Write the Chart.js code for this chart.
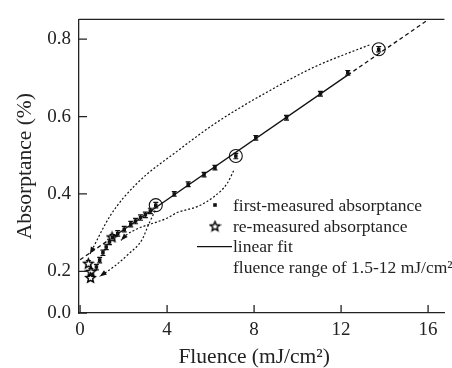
<!DOCTYPE html>
<html>
<head>
<meta charset="utf-8">
<script src="https://cdn.jsdelivr.net/npm/chart.js@4.4.1/dist/chart.umd.min.js"></script>
<style>
  html, body { margin:0; padding:0; background:#fff; }
</style>
</head>
<body>
<canvas id="c" width="452" height="368"></canvas>
<script>
// ---------------- DATA ----------------
// first-measured absorptance (fluence in mJ/cm2, absorptance in %)
const firstX   = [0.53, 0.75, 0.90, 1.05, 1.20, 1.35, 1.50, 1.73, 2.03, 2.33, 2.55, 2.78, 3.00, 3.23, 3.48,
                  4.33, 4.97, 5.70, 6.20, 7.16, 8.08, 9.49, 11.05, 12.31, 13.73];
const firstY   = [0.192, 0.211, 0.229, 0.248, 0.263, 0.276, 0.288, 0.298, 0.309, 0.322, 0.330, 0.339, 0.346, 0.356, 0.371,
                  0.400, 0.425, 0.450, 0.468, 0.498, 0.545, 0.597, 0.659, 0.713, 0.774];
const firstErr = [0.007, 0.007, 0.007, 0.007, 0.007, 0.007, 0.007, 0.007, 0.007, 0.007, 0.007, 0.007, 0.007, 0.007, 0.007,
                  0.006, 0.006, 0.006, 0.006, 0.007, 0.006, 0.006, 0.006, 0.006, 0.007];
const circled  = [14, 19, 24];   // indices of circled first-measured points

// re-measured absorptance
const reX   = [0.38, 0.50, 0.48, 1.47];
const reY   = [0.221, 0.200, 0.184, 0.289];
const reErr = [0.007, 0.007, 0.007, 0.006];

// linear fit (solid inside 1.5-12, dashed outside)
const fitX = [0.0, 1.5, 12.3, 16.0];
const fitY = [0.230, 0.288, 0.707, 0.850];

// dotted arrows from circled points to the re-measured points
const bigX   = [13.30, 10.81, 8.56, 6.31, 4.50, 2.61, 1.40, 0.45];
const bigY   = [0.785, 0.729, 0.662, 0.586, 0.512, 0.427, 0.345, 0.245];
const midX   = [7.06, 6.76, 6.16, 5.41, 4.43, 4.05, 2.10, 1.88];
const midY   = [0.460, 0.427, 0.393, 0.368, 0.351, 0.339, 0.293, 0.280];
const smallX = [3.45, 3.15, 2.84, 2.25, 1.58, 0.90];
const smallY = [0.357, 0.321, 0.281, 0.246, 0.213, 0.187];

// axes
const xTicks = [0, 4, 8, 12, 16];
const yTicks = [0.0924, 0.2, 0.4, 0.6, 0.8];
const yTickLabels = ['0.0', '0.2', '0.4', '0.6', '0.8'];

const legendLabels = ['first-measured absorptance', 're-measured absorptance', 'linear fit',
                      'fluence range of 1.5-12 mJ/cm\u00B2'];

// ---------------- HELPERS ----------------
const FONT = '"Liberation Serif", "Times New Roman", serif';
const INK = '#111';

function pts(xs, ys){
    return xs.map((v, i) => ({x: v, y: ys[i]}));
}

function makeStar(r){
    const c = document.createElement('canvas');
    const s = Math.ceil(r * 2 + 3);
    c.width = s; c.height = s;
    const g = c.getContext('2d');
    g.translate(s / 2, s / 2 + 0.6);
    g.beginPath();
    for (let i = 0; i < 10; i++){
        const rr = i % 2 ? r * 0.45 : r;
        const a = -Math.PI / 2 + i * Math.PI / 5;
        g.lineTo(rr * Math.cos(a), rr * Math.sin(a));
    }
    g.closePath();
    g.fillStyle = '#fff'; g.fill();
    g.lineWidth = 1.4; g.strokeStyle = '#000'; g.stroke();
    return c;
}
const star = makeStar(5);

function curve(xs, ys){
    return {
        data: pts(xs, ys), showLine: true, pointRadius: 0,
        borderColor: INK, borderWidth: 1.2, borderDash: [2, 2],
        cubicInterpolationMode: 'monotone', fill: false
    };
}

// ---------------- PLUGINS ----------------
const errorBars = {
    id: 'errorBars',
    beforeDatasetsDraw(chart){
        const {ctx, scales: {x, y}} = chart;
        ctx.save();
        ctx.strokeStyle = INK; ctx.lineWidth = 1.2;
        const bar = (xs, ys, es) => xs.forEach((v, i) => {
            const px = x.getPixelForValue(v);
            const lo = y.getPixelForValue(ys[i] - es[i]);
            const hi = y.getPixelForValue(ys[i] + es[i]);
            ctx.beginPath();
            ctx.moveTo(px, lo); ctx.lineTo(px, hi);
            ctx.moveTo(px - 2.5, lo); ctx.lineTo(px + 2.5, lo);
            ctx.moveTo(px - 2.5, hi); ctx.lineTo(px + 2.5, hi);
            ctx.stroke();
        });
        bar(firstX, firstY, firstErr);
        bar(reX, reY, reErr);
        ctx.restore();
    }
};

const frame = {
    id: 'frame',
    afterDatasetsDraw(chart){
        const {ctx, chartArea: a, scales: {x, y}} = chart;
        ctx.save();
        // arrow heads at the end of each dotted curve
        ctx.fillStyle = INK;
        [[bigX, bigY], [midX, midY], [smallX, smallY]].forEach(([xs, ys]) => {
            const n = xs.length;
            const x1 = x.getPixelForValue(xs[n - 1]), y1 = y.getPixelForValue(ys[n - 1]);
            const x0 = x.getPixelForValue(xs[n - 2]), y0 = y.getPixelForValue(ys[n - 2]);
            const ang = Math.atan2(y1 - y0, x1 - x0);
            ctx.save();
            ctx.translate(x1, y1); ctx.rotate(ang);
            ctx.beginPath();
            ctx.moveTo(0, 0); ctx.lineTo(-7, -2.6); ctx.lineTo(-7, 2.6);
            ctx.closePath(); ctx.fill();
            ctx.restore();
        });
        // top border and inward ticks
        ctx.strokeStyle = '#222'; ctx.lineWidth = 1.3;
        ctx.beginPath();
        ctx.moveTo(a.left, a.top); ctx.lineTo(a.right, a.top);
        xTicks.forEach(v => {
            const px = x.getPixelForValue(v);
            ctx.moveTo(px, a.bottom); ctx.lineTo(px, a.bottom - 8);
        });
        yTicks.forEach(v => {
            const py = y.getPixelForValue(v);
            ctx.moveTo(a.left, py); ctx.lineTo(a.left + 8, py);
        });
        ctx.stroke();
        ctx.restore();
    },
    afterDraw(chart){
        // legend
        const ctx = chart.ctx;
        ctx.save();
        ctx.font = '17.5px ' + FONT;
        ctx.fillStyle = '#222';
        ctx.textBaseline = 'alphabetic';
        const base = [211, 231.5, 252, 273];
        legendLabels.forEach((t, i) => ctx.fillText(t, 233, base[i]));
        ctx.fillStyle = INK;
        ctx.fillRect(213.2, 203.2, 3.6, 3.6);
        ctx.drawImage(star, 215 - star.width / 2, 226 - star.height / 2);
        ctx.beginPath();
        ctx.moveTo(197, 246.7); ctx.lineTo(232, 246.7);
        ctx.lineWidth = 1.3; ctx.strokeStyle = INK; ctx.stroke();
        ctx.restore();
    }
};

// ---------------- CHART ----------------
new Chart(document.getElementById('c'), {
    type: 'scatter',
    data: {
        datasets: [
            { data: pts(circled.map(i => firstX[i]), circled.map(i => firstY[i])),
              pointStyle: 'circle', pointRadius: 6.5, pointBorderWidth: 1.1,
              pointBorderColor: INK, pointBackgroundColor: 'rgba(0,0,0,0)' },
            { data: pts(firstX, firstY), pointStyle: 'rect', pointRadius: 2.5,
              pointBorderWidth: 0, pointBackgroundColor: INK },
            { data: pts(reX, reY), pointStyle: star, pointRadius: 5 },
            { data: pts(fitX, fitY), showLine: true, pointRadius: 0,
              borderColor: INK, borderWidth: 1.3,
              segment: { borderDash: c => (c.p0DataIndex === 1 ? undefined : [4, 3]) } },
            curve(bigX, bigY),
            curve(midX, midY),
            curve(smallX, smallY)
        ]
    },
    options: {
        responsive: false,
        animation: false,
        devicePixelRatio: 1,
        layout: { padding: { top: 12, right: 0, left: 0, bottom: 0 } },
        plugins: { legend: { display: false }, tooltip: { enabled: false } },
        scales: {
            x: {
                type: 'linear', min: -0.05, max: 16.75,
                afterBuildTicks: s => { s.ticks = xTicks.map(v => ({value: v})); },
                afterFit: s => { s.height = 55; },
                grid: { display: false, drawTicks: false },
                border: { display: true, color: '#222', width: 1.3 },
                ticks: { font: { family: FONT, size: 19 }, color: '#222', padding: 6,
                         maxRotation: 0, autoSkip: false },
                title: { display: true, text: 'Fluence (mJ/cm\u00B2)\u2002\u2009',
                         font: { family: FONT, size: 21.5, lineHeight: 1 }, color: '#222',
                         padding: { top: 0, bottom: 0 } }
            },
            y: {
                type: 'linear', min: 0.0924, max: 0.851,
                afterBuildTicks: s => { s.ticks = yTicks.map(v => ({value: v})); },
                afterFit: s => { s.width = 79; },
                grid: { display: false, drawTicks: false },
                border: { display: true, color: '#222', width: 1.3 },
                ticks: { callback: (v, i) => yTickLabels[i], font: { family: FONT, size: 19 },
                         color: '#222', padding: 8, autoSkip: false },
                title: { display: true, text: 'Absorptance (%)',
                         font: { family: FONT, size: 21.5, lineHeight: 1 }, color: '#222',
                         padding: { top: 15, bottom: 0 } }
            }
        }
    },
    plugins: [errorBars, frame]
});
</script>
</body>
</html>
